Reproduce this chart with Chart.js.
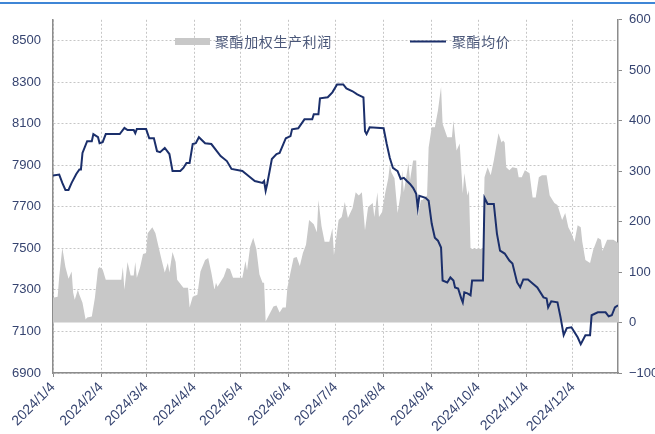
<!DOCTYPE html>
<html>
<head>
<meta charset="utf-8">
<script src="https://cdn.jsdelivr.net/npm/chart.js@4.4.1/dist/chart.umd.min.js"></script>
<style>
  html, body { margin: 0; padding: 0; background: #fff; }
  #wrap { position: relative; width: 655px; height: 434px; }
  #topBar { position: absolute; left: 0; top: 2px; width: 655px; height: 2px; background: #3f86d6; }
</style>
</head>
<body>
<div id="wrap">
  <div id="topBar"></div>
  <canvas id="polyesterChart" width="655" height="434"></canvas>
</div>
<script>
// month ticks on the date axis
const monthTicks = ['2024/1/4', '2024/2/4', '2024/3/4', '2024/4/4', '2024/5/4', '2024/6/4',
    '2024/7/4', '2024/8/4', '2024/9/4', '2024/10/4', '2024/11/4', '2024/12/4'];
const axisEnd = '2025/1/2';

const priceTicks = [6900, 7100, 7300, 7500, 7700, 7900, 8100, 8300, 8500];
const profitTicks = [-100, 0, 100, 200, 300, 400, 500, 600];

const seriesNames = ['聚酯加权生产利润', '聚酯均价'];

// 聚酯加权生产利润 (right axis)
const profitDates = [
    '2024/1/4', '2024/1/7', '2024/1/8', '2024/1/10', '2024/1/12', '2024/1/14', '2024/1/16', '2024/1/17',
    '2024/1/18', '2024/1/20', '2024/1/21', '2024/1/23', '2024/1/25', '2024/1/26', '2024/1/29', '2024/1/31',
    '2024/2/2', '2024/2/3', '2024/2/5', '2024/2/7', '2024/2/17', '2024/2/18', '2024/2/19', '2024/2/21',
    '2024/2/23', '2024/2/25', '2024/2/26', '2024/2/27', '2024/2/29', '2024/3/2', '2024/3/4', '2024/3/5',
    '2024/3/8', '2024/3/10', '2024/3/12', '2024/3/14', '2024/3/16', '2024/3/18', '2024/3/19', '2024/3/21',
    '2024/3/23', '2024/3/24', '2024/3/28', '2024/3/31', '2024/4/1', '2024/4/3', '2024/4/6', '2024/4/8',
    '2024/4/11', '2024/4/13', '2024/4/15', '2024/4/17', '2024/4/18', '2024/4/19', '2024/4/23', '2024/4/25',
    '2024/4/27', '2024/4/29', '2024/5/5', '2024/5/7', '2024/5/8', '2024/5/10', '2024/5/12', '2024/5/14',
    '2024/5/16', '2024/5/18', '2024/5/19', '2024/5/20', '2024/5/23', '2024/5/25', '2024/5/27', '2024/5/29',
    '2024/5/31', '2024/6/2', '2024/6/3', '2024/6/5', '2024/6/7', '2024/6/9', '2024/6/11', '2024/6/13',
    '2024/6/15', '2024/6/17', '2024/6/20', '2024/6/22', '2024/6/23', '2024/6/25', '2024/6/27', '2024/6/30',
    '2024/7/2', '2024/7/3', '2024/7/6', '2024/7/8', '2024/7/10', '2024/7/12', '2024/7/15', '2024/7/17',
    '2024/7/19', '2024/7/21', '2024/7/23', '2024/7/25', '2024/7/28', '2024/7/29', '2024/7/31', '2024/8/1',
    '2024/8/3', '2024/8/5', '2024/8/7', '2024/8/8', '2024/8/9', '2024/8/11', '2024/8/13', '2024/8/15',
    '2024/8/16', '2024/8/17', '2024/8/20', '2024/8/21', '2024/8/23', '2024/8/25', '2024/8/26', '2024/8/28',
    '2024/8/29', '2024/9/1', '2024/9/2', '2024/9/4', '2024/9/6', '2024/9/8', '2024/9/10', '2024/9/11',
    '2024/9/14', '2024/9/17', '2024/9/18', '2024/9/20', '2024/9/22', '2024/9/24', '2024/9/25', '2024/9/27',
    '2024/9/28', '2024/9/29', '2024/10/7', '2024/10/8', '2024/10/10', '2024/10/12', '2024/10/14', '2024/10/17',
    '2024/10/19', '2024/10/20', '2024/10/21', '2024/10/22', '2024/10/24', '2024/10/26', '2024/10/29', '2024/10/30',
    '2024/11/1', '2024/11/3', '2024/11/6', '2024/11/8', '2024/11/10', '2024/11/12', '2024/11/14', '2024/11/17',
    '2024/11/19', '2024/11/22', '2024/11/24', '2024/11/27', '2024/11/29', '2024/12/1', '2024/12/3', '2024/12/5',
    '2024/12/7', '2024/12/9', '2024/12/10', '2024/12/12', '2024/12/15', '2024/12/17', '2024/12/20', '2024/12/22',
    '2024/12/23', '2024/12/26', '2024/12/30', '2025/1/2'
];
const profitValues = [
    49, 51, 91, 148, 110, 87, 101, 59,
    45, 65, 55, 39, 6, 10, 12, 49,
    106, 110, 105, 85, 85, 110, 65, 120,
    93, 93, 120, 89, 108, 136, 138, 177,
    189, 177, 150, 124, 99, 118, 99, 140,
    120, 85, 69, 69, 30, 51, 55, 101,
    124, 128, 99, 65, 79, 71, 91, 108,
    106, 89, 89, 122, 103, 150, 168, 146,
    95, 79, 79, 2, 20, 32, 34, 20,
    30, 30, 69, 99, 128, 130, 112, 138,
    154, 203, 195, 179, 243, 191, 160, 160,
    187, 134, 203, 209, 239, 207, 227, 258,
    252, 258, 183, 229, 237, 209, 258, 209,
    219, 256, 286, 312, 298, 286, 217, 256,
    302, 258, 316, 282, 321, 321, 209, 243,
    243, 252, 347, 387, 387, 420, 467, 394,
    367, 367, 400, 341, 355, 256, 296, 252,
    262, 146, 146, 288, 308, 292, 321, 375,
    357, 361, 357, 308, 302, 308, 306, 288,
    288, 302, 296, 248, 248, 288, 292, 292,
    252, 237, 233, 203, 217, 189, 177, 160,
    193, 189, 160, 124, 118, 144, 168, 164,
    142, 164, 164, 158
];

// 聚酯均价 (left axis)
const priceDates = [
    '2024/1/4', '2024/1/8', '2024/1/10', '2024/1/12', '2024/1/14', '2024/1/16', '2024/1/19', '2024/1/21',
    '2024/1/22', '2024/1/23', '2024/1/26', '2024/1/29', '2024/1/30', '2024/2/2', '2024/2/3', '2024/2/5',
    '2024/2/7', '2024/2/16', '2024/2/19', '2024/2/21', '2024/2/25', '2024/2/26', '2024/2/27', '2024/3/4',
    '2024/3/6', '2024/3/9', '2024/3/11', '2024/3/13', '2024/3/16', '2024/3/19', '2024/3/21', '2024/3/26',
    '2024/3/28', '2024/3/30', '2024/4/1', '2024/4/3', '2024/4/5', '2024/4/7', '2024/4/11', '2024/4/15',
    '2024/4/21', '2024/4/25', '2024/4/28', '2024/5/5', '2024/5/9', '2024/5/13', '2024/5/18', '2024/5/19',
    '2024/5/20', '2024/5/21', '2024/5/24', '2024/5/27', '2024/5/29', '2024/6/2', '2024/6/5', '2024/6/6',
    '2024/6/10', '2024/6/14', '2024/6/19', '2024/6/20', '2024/6/23', '2024/6/24', '2024/6/29', '2024/7/2',
    '2024/7/5', '2024/7/9', '2024/7/11', '2024/7/15', '2024/7/18', '2024/7/22', '2024/7/23', '2024/7/24',
    '2024/7/26', '2024/8/4', '2024/8/6', '2024/8/8', '2024/8/10', '2024/8/13', '2024/8/15', '2024/8/17',
    '2024/8/19', '2024/8/21', '2024/8/23', '2024/8/25', '2024/8/26', '2024/8/27', '2024/8/31', '2024/9/2',
    '2024/9/4', '2024/9/6', '2024/9/8', '2024/9/10', '2024/9/11', '2024/9/14', '2024/9/16', '2024/9/18',
    '2024/9/19', '2024/9/21', '2024/9/23', '2024/9/24', '2024/9/25', '2024/9/27', '2024/9/29', '2024/9/30',
    '2024/10/7', '2024/10/8', '2024/10/10', '2024/10/14', '2024/10/16', '2024/10/18', '2024/10/21', '2024/10/24',
    '2024/10/26', '2024/10/29', '2024/10/31', '2024/11/2', '2024/11/5', '2024/11/8', '2024/11/11', '2024/11/15',
    '2024/11/17', '2024/11/18', '2024/11/20', '2024/11/24', '2024/11/26', '2024/11/28', '2024/11/30', '2024/12/3',
    '2024/12/7', '2024/12/9', '2024/12/12', '2024/12/15', '2024/12/16', '2024/12/20', '2024/12/25', '2024/12/27',
    '2024/12/29', '2024/12/31', '2025/1/2'
];
const priceValues = [
    7850, 7855, 7815, 7781, 7781, 7815, 7858, 7880,
    7880, 7959, 8016, 8016, 8050, 8035, 8006, 8011,
    8050, 8050, 8080, 8069, 8069, 8054, 8074, 8074,
    8030, 8030, 7968, 7963, 7983, 7954, 7872, 7872,
    7887, 7911, 7911, 8002, 8006, 8035, 8006, 8002,
    7944, 7920, 7882, 7872, 7848, 7824, 7815, 7824,
    7777, 7810, 7930, 7954, 7959, 8030, 8040, 8073,
    8078, 8121, 8121, 8145, 8145, 8222, 8227, 8251,
    8289, 8289, 8270, 8256, 8241, 8227, 8064, 8050,
    8083, 8078, 8002, 7935, 7887, 7872, 7834, 7839,
    7824, 7810, 7791, 7762, 7695, 7753, 7743, 7729,
    7618, 7551, 7537, 7504, 7345, 7336, 7360, 7345,
    7312, 7307, 7259, 7240, 7288, 7283, 7274, 7345,
    7345, 7743, 7714, 7714, 7571, 7489, 7475, 7441,
    7427, 7336, 7312, 7350, 7350, 7331, 7312, 7264,
    7259, 7216, 7245, 7240, 7168, 7082, 7116, 7120,
    7072, 7039, 7082, 7082, 7178, 7192, 7192, 7173,
    7178, 7216, 7226
];

const AREA_COLOR = '#c8c8c8';
const LINE_COLOR = '#1b2f6b';
const TEXT_COLOR = '#364470';
const AXIS_COLOR = '#8c8c8c';
const GRID_COLOR = '#c6c6c6';

const DAY_MS = 86400000;
const START_MS = Date.UTC(2024, 0, 4);

// days since the first date on the axis
function dayIndex(dateStr) {
    const [y, m, d] = dateStr.split('/').map(Number);
    return (Date.UTC(y, m - 1, d) - START_MS) / DAY_MS;
}

function toPoints(dates, values) {
    return dates.map((d, i) => ({ x: dayIndex(d), y: values[i] }));
}

// plain numbers, with a real minus sign for negatives
function plainNumber(value) {
    return value < 0 ? '\u2212' + Math.abs(value) : String(value);
}

// legend sits inside the plot, on the 8500 grid line
const insideLegend = {
    id: 'insideLegend',
    afterDraw(chart) {
        const ctx = chart.ctx;
        const y = 41.5;
        ctx.save();
        ctx.font = '14px "Noto Sans CJK SC"';
        ctx.letterSpacing = '0.6px';
        ctx.textBaseline = 'middle';

        ctx.fillStyle = AREA_COLOR;
        ctx.fillRect(175, 38, 35, 7);
        ctx.fillStyle = '#4a5779';
        ctx.fillText(chart.data.datasets[0].label, 215, y);

        ctx.strokeStyle = LINE_COLOR;
        ctx.lineWidth = 2;
        ctx.beginPath();
        ctx.moveTo(410, y);
        ctx.lineTo(446, y);
        ctx.stroke();
        ctx.fillText(chart.data.datasets[1].label, 452, y);
        ctx.restore();
    }
};

let polyesterChart = null;

document.addEventListener('DOMContentLoaded', () => {
    Chart.defaults.font.family = '"Liberation Sans", Arial, sans-serif';
    Chart.defaults.color = TEXT_COLOR;

    const ctx = document.getElementById('polyesterChart').getContext('2d');

    polyesterChart = new Chart(ctx, {
        type: 'line',
        data: {
            datasets: [
                {
                    label: seriesNames[0],
                    data: toPoints(profitDates, profitValues),
                    yAxisID: 'yProfit',
                    fill: 'origin',
                    backgroundColor: AREA_COLOR,
                    borderWidth: 0,
                    pointRadius: 0,
                    tension: 0,
                    order: 2
                },
                {
                    label: seriesNames[1],
                    data: toPoints(priceDates, priceValues),
                    yAxisID: 'yPrice',
                    fill: false,
                    borderColor: LINE_COLOR,
                    borderWidth: 2,
                    pointRadius: 0,
                    tension: 0,
                    order: 1
                }
            ]
        },
        options: {
            responsive: false,
            animation: false,
            layout: { padding: { top: 18, left: 0, right: 0, bottom: 0 } },
            plugins: {
                legend: { display: false },
                tooltip: { enabled: false }
            },
            scales: {
                x: {
                    type: 'linear',
                    min: 0,
                    max: dayIndex(axisEnd),
                    afterBuildTicks: (scale) => {
                        scale.ticks = monthTicks.map(s => ({ value: dayIndex(s) }));
                    },
                    afterFit: (scale) => { scale.height = 61; },
                    ticks: {
                        autoSkip: false,
                        minRotation: 45,
                        maxRotation: 45,
                        padding: 2,
                        font: { size: 14 },
                        callback: (value, index) => monthTicks[index]
                    },
                    grid: {
                        color: GRID_COLOR,
                        tickLength: 4,
                        tickColor: AXIS_COLOR
                    },
                    border: { color: AXIS_COLOR, width: 1.5, dash: [2, 2] }
                },
                yPrice: {
                    position: 'left',
                    min: 6900,
                    max: 8600,
                    afterBuildTicks: (scale) => {
                        scale.ticks = priceTicks.map(v => ({ value: v }));
                    },
                    afterFit: (scale) => { scale.width = 53; },
                    ticks: { padding: 12, font: { size: 13 }, callback: plainNumber },
                    grid: { color: GRID_COLOR, drawTicks: false },
                    border: { color: AXIS_COLOR, width: 1.5, dash: [2, 2] }
                },
                yProfit: {
                    position: 'right',
                    min: -100,
                    max: 600,
                    afterBuildTicks: (scale) => {
                        scale.ticks = profitTicks.map(v => ({ value: v }));
                    },
                    afterFit: (scale) => { scale.width = 37; },
                    ticks: { padding: 7, font: { size: 13 }, callback: plainNumber },
                    grid: {
                        drawOnChartArea: false,
                        tickLength: 4,
                        color: AXIS_COLOR
                    },
                    border: { color: AXIS_COLOR, width: 1.5 }
                }
            }
        },
        plugins: [insideLegend]
    });
});
</script>
</body>
</html>
